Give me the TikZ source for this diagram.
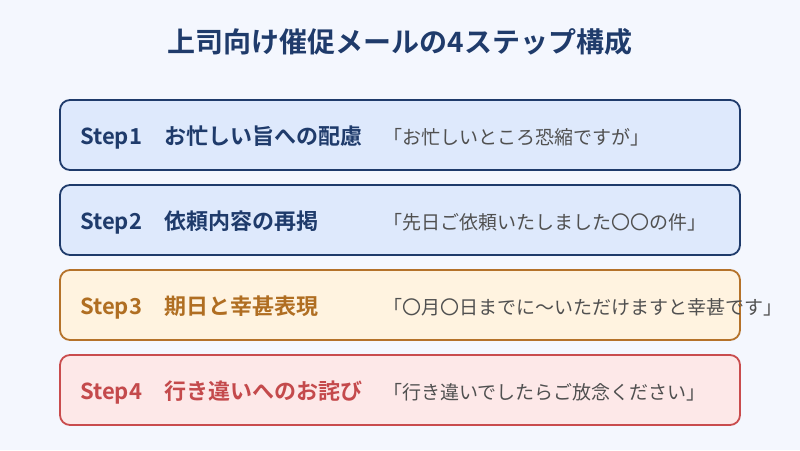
\documentclass[tikz,border=0pt]{standalone}
\usepackage{fontspec}
\setmainfont{Noto Sans CJK JP}[BoldFont={Noto Sans CJK JP Bold}]
\definecolor{bg}{HTML}{F4F7FE}
\definecolor{navy}{HTML}{1F3B6B}
\definecolor{bluefill}{HTML}{DEE9FC}
\definecolor{orangeline}{HTML}{B5722A}
\definecolor{orangefill}{HTML}{FFF3E0}
\definecolor{orangetext}{HTML}{B06E22}
\definecolor{redline}{HTML}{C94C4E}
\definecolor{redfill}{HTML}{FDE8E8}
\definecolor{redtext}{HTML}{C44A4C}
\definecolor{quotegray}{HTML}{505050}
\begin{document}
\begin{tikzpicture}[x=1pt,y=-1pt,
  stepbox/.style={draw, line width=1.8pt, rounded corners=10pt, minimum width=680pt, minimum height=70pt, inner sep=0pt},
  steplabel/.style={anchor=west, font=\bfseries\fontsize{22}{26}\selectfont, inner sep=0pt},
  quote/.style={anchor=west, font=\fontsize{19}{23}\selectfont, text=quotegray, inner sep=0pt}]
\useasboundingbox (0,0) rectangle (800,450);
\fill[bg] (0,0) rectangle (800,450);
\node[font=\bfseries\fontsize{28}{32}\selectfont, text=navy] (title) at (400,42) {上司向け催促メールの4ステップ構成};

\node[stepbox, draw=navy, fill=bluefill] (b1) at (400,135) {};
\node[stepbox, draw=navy, fill=bluefill] (b2) at (400,220) {};
\node[stepbox, draw=orangeline, fill=orangefill] (b3) at (400,305) {};
\node[stepbox, draw=redline, fill=redfill] (b4) at (400,390) {};

\node[steplabel, text=navy] (s1) at (80,137.5) {Step1\hspace{22pt}お忙しい旨への配慮};
\node[steplabel, text=navy] (s2) at (80,222.5) {Step2\hspace{22pt}依頼内容の再掲};
\node[steplabel, text=orangetext] (s3) at (80,307.5) {Step3\hspace{22pt}期日と幸甚表現};
\node[steplabel, text=redtext] (s4) at (80,392.5) {Step4\hspace{22pt}行き違いへのお詫び};

\node[quote] (q1) at (383,137) {「お忙しいところ恐縮ですが」};
\node[quote] (q2) at (383,222) {「先日ご依頼いたしました〇〇の件」};
\node[quote] (q3) at (383,307) {「〇月〇日までに〜いただけますと幸甚です」};
\node[quote] (q4) at (383,392) {「行き違いでしたらご放念ください」};
\end{tikzpicture}
\end{document}
